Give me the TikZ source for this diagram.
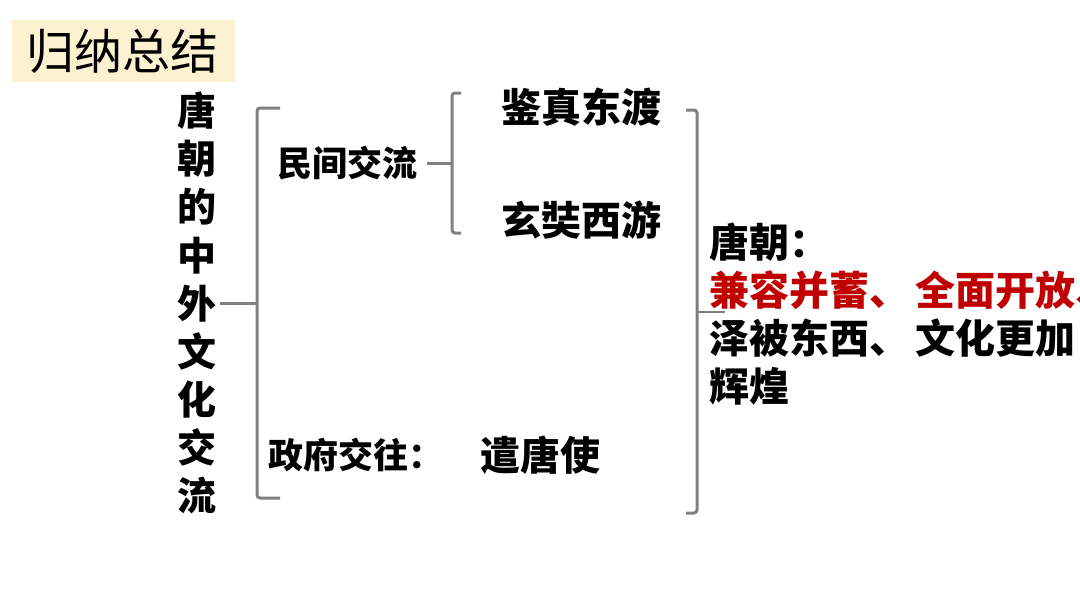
\documentclass[tikz,border=0pt]{standalone}
\usepackage{fontspec}
\setmainfont{Noto Sans CJK SC}
\usepackage{xcolor}
\definecolor{brkgray}{RGB}{128,128,128}
\definecolor{tangred}{RGB}{192,0,0}
\definecolor{titlefill}{RGB}{252,241,208}

\tikzset{
    brk/.style={brkgray, line width=3pt, rounded corners=3pt},
    bigtxt/.style={font=\bfseries\fontsize{40}{48}\selectfont, inner sep=0pt},
    midtxt/.style={font=\bfseries\fontsize{35}{42}\selectfont, inner sep=0pt}
}

\begin{document}
\begin{tikzpicture}[x=1pt, y=-1pt]
        \useasboundingbox (0,0) rectangle (1080,608);

        % Title
        \fill[titlefill] (12,20) rectangle (235,82);
        \node[font=\fontsize{48}{52}\selectfont, inner sep=0pt] (title) at (123,51) {归纳总结};

        % Vertical heading
        \node[bigtxt, font=\bfseries\fontsize{39}{48.1}\selectfont, align=center] (tang) at (197,303)
            {唐\\朝\\的\\中\\外\\文\\化\\交\\流};

        % Branches
        \node[midtxt, anchor=west] (minjian) at (277,163) {民间交流};
        \node[midtxt, anchor=west] (zhengfu) at (268,455) {政府交往：};
        \node[bigtxt, anchor=west] (jianzhen) at (501,107) {鉴真东渡};
        \node[bigtxt, anchor=west] (xuanzang) at (501,220) {玄奘西游};
        \node[bigtxt, anchor=west] (qiantang) at (480,455) {遣唐使};

        % Summary
        \node[bigtxt, anchor=west, align=left] (result) at (709,314)
            {唐朝：\\
             \textcolor{tangred}{兼容并蓄、\,全面开放、}\\
             泽被东西、\,文化更加\\
             辉煌};

        % Left bracket
        \draw[brk] (280,108) -- (257,108) -- (257,498) -- (280,498);
        \draw[brk] ([xshift=3pt]tang.east |- 0,303) -- (257,303);

        % Bracket of the folk exchange
        \draw[brk] (461,93) -- (452,93) -- (452,233) -- (461,233);
        \draw[brk] ([xshift=10pt]minjian.east) -- (452,163);

        % Right bracket
        \draw[brk] (686,110) -- (697,110) -- (697,513) -- (686,513);
        \draw[brkgray, line width=1.5pt] (697,312) -- (725,312);
    \end{tikzpicture}
\end{document}
